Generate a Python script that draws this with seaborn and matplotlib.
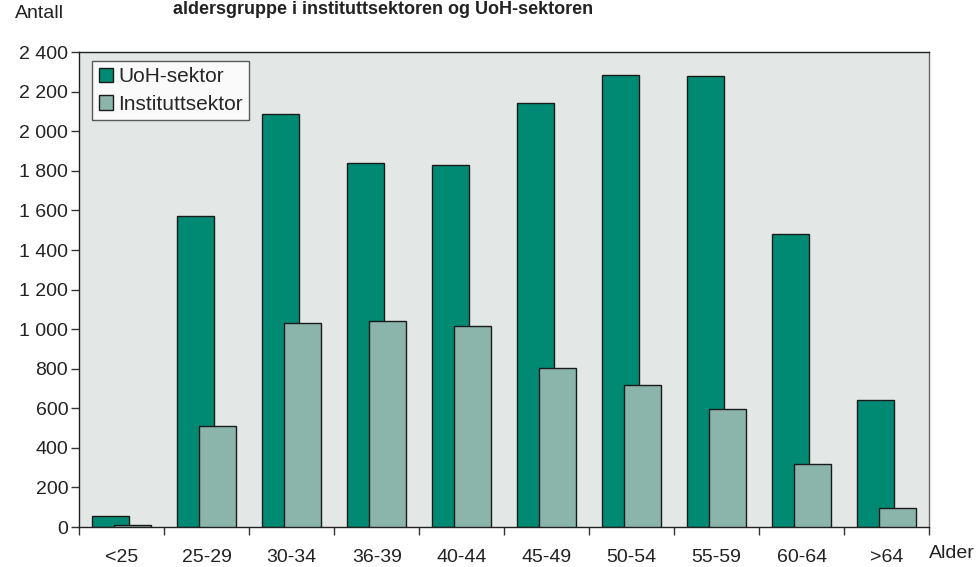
import numpy as np
import pandas as pd
import matplotlib.pyplot as plt
from matplotlib.patches import Patch
from matplotlib.ticker import FuncFormatter, FixedLocator
import seaborn as sns

# Data
age_groups = ["<25", "25-29", "30-34", "36-39", "40-44", "45-49", "50-54", "55-59", "60-64", ">64"]
uoh_sektor = [55, 1570, 2085, 1840, 1830, 2145, 2285, 2280, 1480, 640]
institutt_sektor = [10, 510, 1030, 1040, 1015, 805, 720, 595, 317, 95]

series_names = ["UoH-sektor", "Instituttsektor"]
colors = ["#008a73", "#8bb5ab"]
bg_color = "#e3e8e6"

sns.set_style("white")
plt.rcParams["font.family"] = ["Liberation Sans", "DejaVu Sans"]

pos = np.arange(len(age_groups))
shift = 0.13
df_uoh = pd.DataFrame({"x": pos - shift, "Antall": uoh_sektor})
df_inst = pd.DataFrame({"x": pos + shift, "Antall": institutt_sektor})

fig = plt.figure(figsize=(9.8, 5.67), dpi=100)
ax = fig.add_axes([0.0809, 0.0705, 0.8671, 0.8375])
ax.set_facecolor(bg_color)

sns.barplot(data=df_uoh, x="x", y="Antall", native_scale=True, width=0.435,
            color=colors[0], saturation=1, edgecolor="#1a1a1a", linewidth=1, ax=ax, zorder=2)
sns.barplot(data=df_inst, x="x", y="Antall", native_scale=True, width=0.435,
            color=colors[1], saturation=1, edgecolor="#1a1a1a", linewidth=1, ax=ax, zorder=3)

ax.set_xlim(-0.5, len(age_groups) - 0.5)
ax.set_ylim(0, 2400)
ax.set_xlabel("")
ax.set_ylabel("")

# y axis, thousands separated by a space
ax.yaxis.set_major_locator(FixedLocator(np.arange(0, 2401, 200)))
ax.yaxis.set_major_formatter(FuncFormatter(lambda v, p: f"{int(v):,}".replace(",", " ")))
ax.tick_params(axis="y", which="major", direction="out", length=6, width=1, color="#333333",
               labelsize=14, pad=2, labelcolor="#222222", left=True)

# x axis: ticks at boundaries, labels at centers
ax.xaxis.set_major_locator(FixedLocator(np.arange(-0.5, len(age_groups), 1.0)))
ax.xaxis.set_major_formatter(FuncFormatter(lambda v, p: ""))
ax.xaxis.set_minor_locator(FixedLocator(pos))
ax.set_xticklabels(age_groups, minor=True)
ax.tick_params(axis="x", which="major", direction="out", length=6, width=1, color="#333333", bottom=True)
ax.tick_params(axis="x", which="minor", length=0, labelsize=14, pad=16, labelcolor="#222222")

for side, sp in ax.spines.items():
    sp.set_visible(True)
    sp.set_linewidth(1)
    sp.set_color("#222222" if side in ("left", "bottom", "top") else "#666666")

handles = [Patch(facecolor=c, edgecolor="#1a1a1a", linewidth=1, label=n) for c, n in zip(colors, series_names)]
leg = ax.legend(handles=handles, loc="upper left", bbox_to_anchor=(0.0153, 0.981), frameon=True,
                fancybox=False, fontsize=15, handlelength=0.7, handleheight=0.7, handletextpad=0.25,
                borderpad=0.3, labelspacing=0.4, borderaxespad=0)
leg.get_frame().set_edgecolor("#333333")
leg.get_frame().set_facecolor("white")
leg.get_frame().set_linewidth(1)

fig.text(15 / 980, 1 - 14 / 567, "Antall", fontsize=14, ha="left", va="center", color="#222222")
fig.text(929 / 980, 1 - 554 / 567, "Alder", fontsize=14, ha="left", va="center", color="#222222")
fig.text(173 / 980, 1 - 9 / 567, "aldersgruppe i instituttsektoren og UoH-sektoren",
         fontsize=13, fontweight="bold", ha="left", va="center", color="#222222")

fig.savefig("out.png", dpi=100)
